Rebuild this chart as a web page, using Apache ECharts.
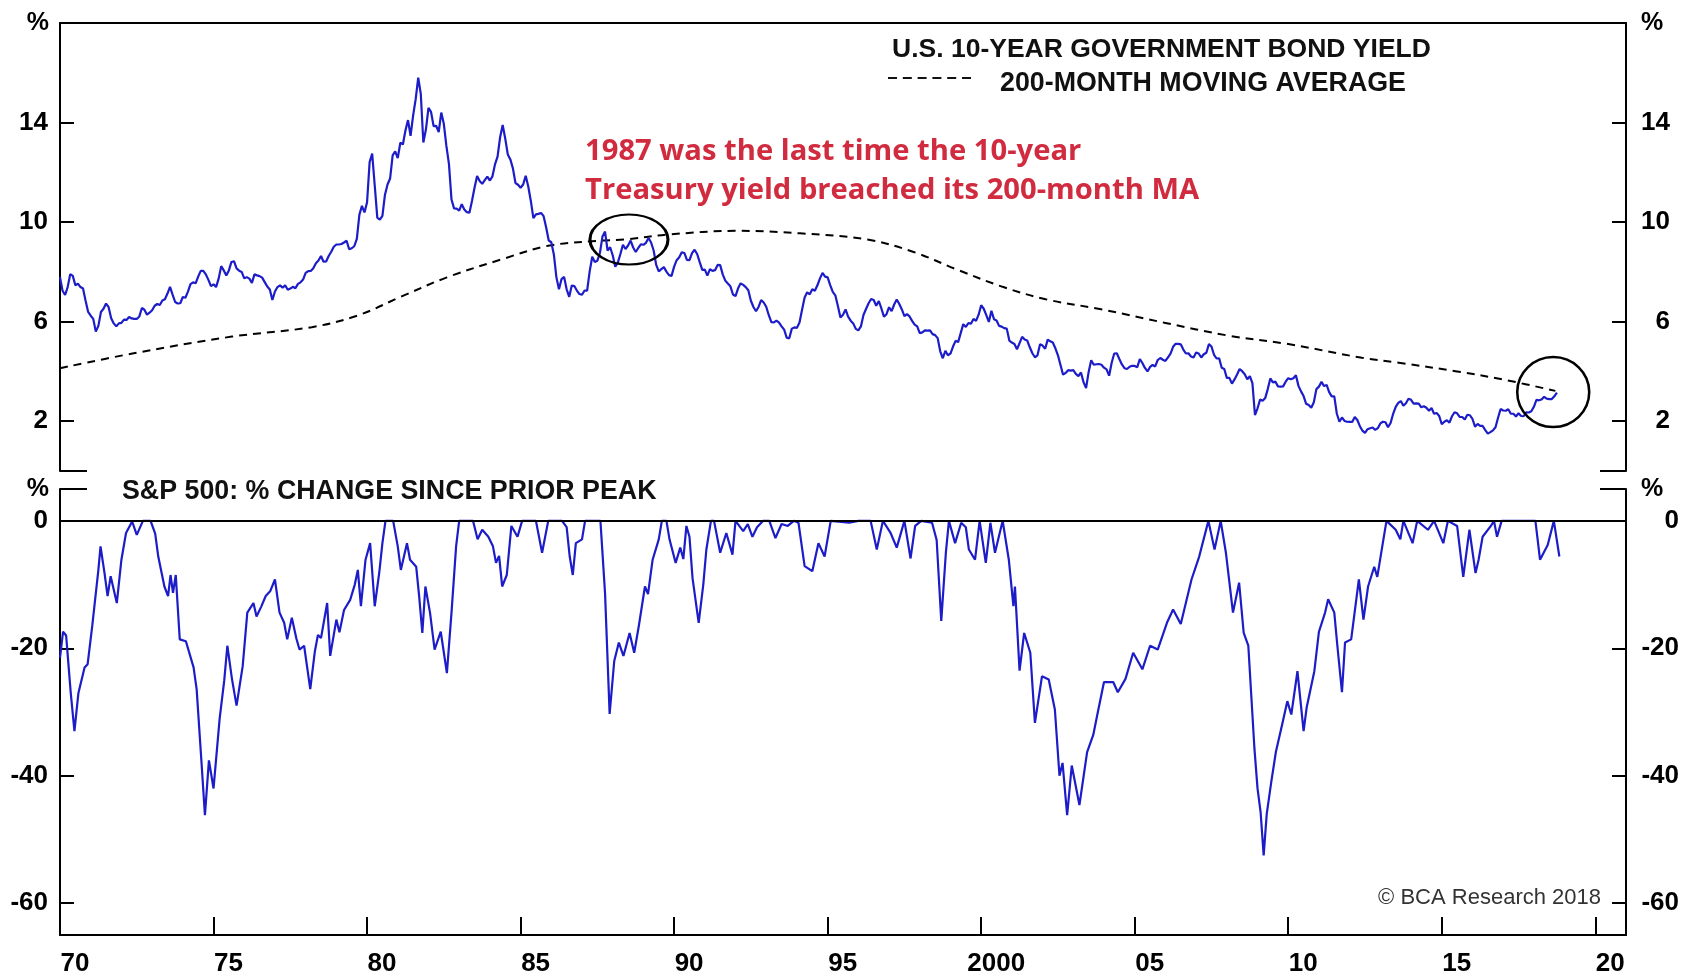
<!DOCTYPE html>
<html><head><meta charset="utf-8">
<script src="https://cdn.jsdelivr.net/npm/echarts@6/dist/echarts.min.js"></script>
<style>html,body{margin:0;padding:0;background:#fff}#c{width:1688px;height:977px}</style>
</head><body><div id="c"></div>
<script>
// ---------- DATA ----------
// U.S. 10-year government bond yield, monthly, starting Jan 1970
const yieldStart = 1970;
const yield1970s = [
7.79,7.24,7.07,7.39,7.91,7.84,7.46,7.53,7.39,7.33,6.84,6.39,
6.24,6.11,5.60,5.83,6.39,6.52,6.73,6.58,6.14,5.93,5.81,5.93,
5.95,6.08,6.07,6.19,6.13,6.11,6.11,6.21,6.55,6.48,6.28,6.36,
6.46,6.64,6.71,6.67,6.85,6.90,7.13,7.40,7.09,6.79,6.73,6.74,
6.99,6.96,7.21,7.51,7.58,7.54,7.81,8.04,8.04,7.90,7.68,7.43,
7.50,7.39,7.73,8.23,8.06,7.86,8.06,8.40,8.43,8.14,8.05,8.00,
7.74,7.79,7.73,7.56,7.90,7.86,7.83,7.77,7.59,7.41,7.29,6.87,
7.21,7.39,7.46,7.37,7.46,7.28,7.33,7.40,7.34,7.52,7.58,7.69,
7.96,8.03,8.04,8.15,8.35,8.46,8.64,8.41,8.42,8.64,8.81,9.01,
9.10,9.10,9.12,9.18,9.25,8.91,8.95,9.03,9.33,10.30,10.65,10.39];
const yield1980s = [
10.80,12.41,12.75,11.47,10.18,10.10,10.25,11.10,11.51,11.75,12.68,12.84,
12.57,13.19,13.12,13.68,14.10,13.47,14.28,14.94,15.80,15.15,13.20,13.72,
14.59,14.43,13.86,13.87,13.62,14.40,13.95,13.06,12.34,10.91,10.55,10.54,
10.46,10.72,10.51,10.40,10.38,10.85,11.38,11.85,11.65,11.54,11.69,11.83,
11.67,11.84,12.32,12.63,13.41,13.90,13.36,12.72,12.52,12.16,11.57,11.50,
11.38,11.51,11.86,11.43,10.85,10.16,10.31,10.33,10.37,10.24,9.78,9.26,
9.19,8.70,7.78,7.30,7.71,7.80,7.30,7.00,7.45,7.43,7.25,7.11,
7.08,7.25,7.25,8.02,8.61,8.40,8.45,8.76,9.42,9.62,8.86,8.99,
8.67,8.21,8.37,8.72,9.09,8.92,9.06,9.26,8.98,8.80,8.96,9.11,
9.09,9.17,9.36,9.18,8.86,8.28,8.02,8.11,8.19,8.01,7.87,7.84];
const yield1990s = [
8.21,8.47,8.59,8.79,8.76,8.48,8.47,8.75,8.89,8.72,8.39,8.08,
8.09,7.85,8.11,8.04,8.07,8.28,8.27,7.90,7.65,7.53,7.42,7.09,
7.03,7.34,7.54,7.48,7.39,7.26,6.84,6.59,6.42,6.59,6.87,6.77,
6.60,6.26,5.98,5.97,6.04,5.96,5.81,5.68,5.36,5.33,5.72,5.77,
5.75,5.97,6.48,6.97,7.18,7.10,7.30,7.24,7.46,7.74,7.96,7.81,
7.78,7.47,7.20,7.06,6.63,6.17,6.28,6.49,6.20,6.04,5.93,5.71,
5.65,5.81,6.27,6.51,6.74,6.91,6.87,6.64,6.83,6.53,6.20,6.30,
6.58,6.42,6.69,6.89,6.71,6.49,6.22,6.30,6.21,6.03,5.88,5.81,
5.54,5.57,5.65,5.64,5.65,5.50,5.46,5.34,4.81,4.53,4.83,4.65,
4.72,5.00,5.23,5.18,5.54,5.90,5.79,5.94,5.92,6.11,6.03,6.28];
const yield2000s = [
6.66,6.52,6.26,5.99,6.44,6.10,6.05,5.83,5.80,5.74,5.72,5.24,
5.16,5.10,4.89,5.14,5.39,5.28,5.24,4.97,4.73,4.57,4.65,5.09,
5.04,4.91,5.28,5.21,5.16,4.93,4.65,4.26,3.87,3.94,4.05,4.03,
4.05,3.90,3.81,3.96,3.57,3.33,3.98,4.45,4.27,4.29,4.30,4.27,
4.15,4.08,3.83,4.35,4.72,4.73,4.50,4.28,4.13,4.10,4.19,4.23,
4.22,4.17,4.50,4.34,4.14,4.00,4.18,4.26,4.20,4.46,4.54,4.47,
4.42,4.57,4.72,4.99,5.11,5.11,5.09,4.88,4.72,4.73,4.60,4.56,
4.76,4.72,4.56,4.69,4.75,5.10,5.00,4.67,4.52,4.53,4.15,4.10,
3.74,3.74,3.51,3.68,3.88,4.10,4.01,3.89,3.69,3.81,3.53,2.25,
2.52,2.87,2.82,2.93,3.29,3.72,3.56,3.59,3.40,3.39,3.40,3.59];
const yield2010s = [
3.73,3.69,3.73,3.85,3.42,3.20,3.01,2.70,2.65,2.54,2.76,3.29,
3.39,3.58,3.41,3.46,3.17,3.00,3.00,2.30,1.98,2.15,2.01,1.98,
1.97,1.97,2.17,2.05,1.80,1.62,1.53,1.68,1.72,1.75,1.65,1.72,
1.91,1.98,1.96,1.76,1.93,2.30,2.58,2.74,2.81,2.62,2.72,2.90,
2.86,2.71,2.72,2.71,2.56,2.60,2.54,2.42,2.53,2.30,2.33,2.21,
1.88,1.98,2.04,1.94,2.20,2.36,2.32,2.17,2.17,2.07,2.26,2.24,
2.09,1.78,1.89,1.81,1.81,1.64,1.50,1.56,1.63,1.76,2.14,2.49,
2.43,2.42,2.48,2.30,2.30,2.19,2.32,2.21,2.20,2.36,2.35,2.40,
2.58,2.86,2.84,2.87,2.98,2.91,2.89,2.89,3.00,3.15];

// 200-month moving average
const maYears  = [1970.0,1972.4,1975.6,1978.2,1979.7,1981.1,1982.6,1984.5,1985.9,1987.5,1988.4,1989.8,1992.0,1994.1,1996.3,1997.8,1999.2,2000.7,2002.1,2003.9,2006.0,2008.0,2010.0,2012.4,2013.6,2015.5,2017.1,2018.7];
const maValues = [4.13,4.73,5.40,5.78,6.25,7.00,7.78,8.55,9.05,9.25,9.30,9.50,9.65,9.55,9.30,8.80,8.10,7.40,6.90,6.50,5.95,5.45,5.10,4.55,4.35,4.00,3.65,3.22];

// S&P 500: % change since prior peak  [year, %]
const sp1970s = [[1970.0,-21.5],[1970.1,-17.4],[1970.2,-18],[1970.35,-27],[1970.47,-33],[1970.6,-27],[1970.8,-23],[1970.9,-22.5],[1971.05,-16.5],[1971.25,-7.7],[1971.32,-4],[1971.45,-8.2],[1971.55,-11.8],[1971.65,-8.7],[1971.85,-12.9],[1972.0,-6.1],[1972.15,-1.9],[1972.35,-0.1],[1972.5,-2.2],[1972.7,0],[1972.95,0],[1973.1,-2],[1973.2,-5.6],[1973.4,-10.3],[1973.52,-11.8],[1973.6,-8.5],[1973.68,-11.3],[1973.77,-8.5],[1973.9,-18.6],[1974.1,-18.9],[1974.35,-23],[1974.45,-26.4],[1974.6,-37.3],[1974.72,-46.2],[1974.85,-37.6],[1975.0,-42],[1975.2,-31],[1975.35,-25],[1975.45,-19.6],[1975.6,-24.8],[1975.75,-29],[1975.95,-22.8],[1976.1,-14.4],[1976.3,-12.9],[1976.4,-15],[1976.55,-13.5],[1976.7,-11.8],[1976.85,-11],[1977.0,-9.2],[1977.15,-14.4],[1977.3,-16],[1977.4,-18.6],[1977.55,-15.2],[1977.7,-18.5],[1977.8,-20.2],[1977.95,-19.6],[1978.15,-26.4],[1978.3,-20.5],[1978.4,-17.9],[1978.5,-18.4],[1978.7,-12.9],[1978.8,-21.2],[1979.0,-15.5],[1979.1,-17.5],[1979.25,-14],[1979.45,-12.4],[1979.6,-10],[1979.7,-7.7],[1979.8,-13.4],[1979.95,-6.1]];
const sp1980s = [[1980.1,-3.5],[1980.25,-13.4],[1980.4,-8],[1980.5,-3.5],[1980.6,0],[1980.85,0],[1981.0,-4],[1981.1,-7.7],[1981.3,-3.5],[1981.4,-6.1],[1981.6,-7.2],[1981.7,-12],[1981.8,-17.6],[1981.9,-10.3],[1982.05,-14.4],[1982.2,-20.2],[1982.4,-17.4],[1982.6,-23.9],[1982.75,-14.4],[1982.9,-4],[1983.0,0],[1983.45,0],[1983.6,-2.9],[1983.75,-1.4],[1983.95,-2.5],[1984.1,-4],[1984.2,-6.6],[1984.3,-5.5],[1984.4,-10.3],[1984.55,-8.5],[1984.7,-0.8],[1984.9,-2.5],[1985.05,0],[1985.5,0],[1985.7,-5],[1985.9,0],[1986.35,0],[1986.5,-1],[1986.6,-5.6],[1986.7,-8.5],[1986.8,-3.5],[1987.0,-2.9],[1987.1,0],[1987.6,0],[1987.75,-11.3],[1987.9,-30.3],[1988.05,-22],[1988.2,-19.1],[1988.35,-21.2],[1988.55,-17.6],[1988.7,-20.7],[1988.85,-16.5],[1989.05,-10.3],[1989.15,-11.5],[1989.3,-6.1],[1989.5,-2.9],[1989.6,0],[1989.75,0],[1989.85,-2.9]];
const sp1990s = [[1990.05,-6.6],[1990.2,-4.2],[1990.3,-6],[1990.4,-0.8],[1990.5,-2.5],[1990.6,-9],[1990.8,-16],[1990.95,-10],[1991.05,-4.5],[1991.2,0],[1991.3,0],[1991.5,-5],[1991.7,-1.9],[1991.9,-5.3],[1992.0,0],[1992.25,-1.6],[1992.4,-0.5],[1992.55,-2.5],[1992.7,-1],[1992.9,0],[1993.1,0],[1993.3,-2.7],[1993.5,-0.5],[1993.7,-0.8],[1993.9,0],[1994.05,-0.3],[1994.25,-7.1],[1994.5,-7.9],[1994.7,-3.5],[1994.9,-5.6],[1995.1,0],[1995.7,-0.3],[1996.0,0],[1996.4,0],[1996.6,-4.5],[1996.8,0],[1997.05,-1.9],[1997.25,-4.2],[1997.5,0],[1997.7,-5.9],[1997.85,-0.8],[1998.05,0],[1998.4,-0.3],[1998.55,-3],[1998.7,-15.7],[1998.85,-5],[1998.95,0],[1999.15,-3.5],[1999.35,-0.3],[1999.5,-1],[1999.6,-4.5],[1999.8,-6.1],[1999.95,0]];
const sp2000s = [[2000.15,-6.6],[2000.3,-0.3],[2000.45,-5],[2000.7,0],[2000.9,-6.1],[2001.05,-13.4],[2001.1,-10.3],[2001.25,-23.5],[2001.4,-17.6],[2001.6,-20.7],[2001.75,-31.7],[2001.98,-24.4],[2002.2,-24.9],[2002.4,-29.6],[2002.55,-40],[2002.65,-38],[2002.8,-46.2],[2002.95,-38.4],[2003.2,-44.6],[2003.45,-36.3],[2003.65,-33.6],[2003.8,-30],[2004.0,-25.3],[2004.3,-25.3],[2004.45,-26.9],[2004.7,-24.8],[2004.95,-20.7],[2005.25,-23.3],[2005.5,-19.6],[2005.75,-20.2],[2006.05,-16],[2006.25,-13.9],[2006.5,-16.2],[2006.85,-9.2],[2007.1,-5.6],[2007.4,0],[2007.6,-4.5],[2007.8,0],[2007.97,-5],[2008.2,-14.4],[2008.4,-9.7],[2008.55,-17.6],[2008.7,-19.6],[2008.9,-35.8],[2009.0,-42],[2009.1,-45.7],[2009.2,-52.5],[2009.3,-46],[2009.45,-40.9],[2009.6,-36.2],[2009.8,-32],[2009.97,-28.3]];
const sp2010s = [[2010.1,-30.4],[2010.3,-23.6],[2010.5,-33],[2010.6,-29.3],[2010.85,-23.6],[2011.0,-17.4],[2011.2,-14.4],[2011.3,-12.3],[2011.5,-14.4],[2011.6,-19.6],[2011.75,-26.9],[2011.85,-19.1],[2012.05,-18.6],[2012.3,-9.2],[2012.45,-15.5],[2012.6,-10.3],[2012.8,-7.2],[2012.9,-8.8],[2013.1,-2.9],[2013.2,0],[2013.5,-1.4],[2013.65,-2.9],[2013.75,0],[2014.05,-3.5],[2014.2,0],[2014.55,-1.4],[2014.75,0],[2015.05,-3.5],[2015.2,0],[2015.5,-0.8],[2015.7,-8.8],[2015.9,-1.4],[2016.1,-8.2],[2016.2,-6.1],[2016.33,-2.5],[2016.6,-0.8],[2016.7,0],[2016.8,-2.5],[2016.95,0],[2018.05,0],[2018.2,-6.1],[2018.45,-3.8],[2018.65,0],[2018.83,-5.6]];

// ticks
const yieldTicks = [2,6,10,14];
const drawdownTicks = [-60,-40,-20,0];
const yearTicks = [1970,1975,1980,1985,1990,1995,2000,2005,2010,2015,2020];
// highlighted spots (year, yield)
const circle1987 = [1988.53, 9.3];
const circle2018 = [2018.63, 3.17];

// ---------- BUILD ----------
const yieldAll = [].concat(yield1970s, yield1980s, yield1990s, yield2000s, yield2010s);
const yieldData = yieldAll.map((v, i) => [yieldStart + i / 12, v]);
const maData = maYears.map((y, i) => [y, maValues[i]]);
const spData = [].concat(sp1970s, sp1980s, sp1990s, sp2000s, sp2010s);

const L = 60, R = 62, W = 1688 - L - R, H = 448, T1 = 23, T2 = 489;
const FONT = '"Liberation Sans", Arial, sans-serif';
const RED_FONT = '"Open Sans", "Noto Sans", sans-serif';
const BLUE = '#1c1cc8';
const axisLine = {show: true, onZero: false, lineStyle: {color: '#000', width: 2}};
const lbl = {color: '#000', fontSize: 26, fontWeight: 'bold', fontFamily: FONT};
const pctName = (side) => ({
  name: '%', nameLocation: 'end', nameGap: 0,
  nameTextStyle: Object.assign({}, lbl, {fontSize: 25, align: side === 'left' ? 'right' : 'left', verticalAlign: 'middle',
    padding: side === 'left' ? [4, 11, 0, 0] : [4, 0, 0, 15]})
});
function yAx(grid, side, min, max, ticks, margin) {
  return Object.assign({
    gridIndex: grid, type: 'value', position: side, min: min, max: max,
    axisLine: axisLine,
    axisTick: {show: true, inside: true, length: 14, customValues: ticks, lineStyle: {color: '#000', width: 2}},
    axisLabel: Object.assign({}, lbl, {customValues: ticks, margin: margin, align: 'right', padding: [8, 0, 0, 0]}),
    splitLine: {show: false}
  }, pctName(side));
}

const chart = echarts.init(document.getElementById('c'), null, {renderer: 'canvas'});
const stub = (x1, y, x2) => ({type: 'line', shape: {x1: x1, y1: y, x2: x2, y2: y}, style: {stroke: '#000', lineWidth: 2}});
chart.setOption({
  animation: false,
  backgroundColor: '#fff',
  grid: [
    {left: L, width: W, top: T1, height: H},
    {left: L, width: W, top: T2, height: H}
  ],
  xAxis: [
    {gridIndex: 0, type: 'value', min: 1970, max: 2021, position: 'top', axisLine: axisLine,
     axisTick: {show: false}, axisLabel: {show: false}, splitLine: {show: false}},
    {gridIndex: 1, type: 'value', min: 1970, max: 2021, position: 'bottom', axisLine: axisLine,
     axisTick: {show: true, inside: true, length: 18, customValues: yearTicks, lineStyle: {color: '#000', width: 2}},
     axisLabel: Object.assign({}, lbl, {customValues: yearTicks, margin: 16, padding: [0, 0, 0, 30],
       formatter: v => v === 2000 ? '2000' : String(v % 100).padStart(2, '0')}),
     splitLine: {show: false}}
  ],
  yAxis: [
    yAx(0, 'left', 0, 18, yieldTicks, 12),
    yAx(0, 'right', 0, 18, yieldTicks, 44),
    yAx(1, 'left', -65, 5, drawdownTicks, 12),
    yAx(1, 'right', -65, 5, drawdownTicks, 53)
  ],
  series: [
    {type: 'line', name: 'U.S. 10-YEAR GOVERNMENT BOND YIELD', xAxisIndex: 0, yAxisIndex: 0, data: yieldData,
     showSymbol: false, lineStyle: {color: BLUE, width: 2.2}, z: 3,
     markPoint: {silent: true, symbol: 'circle', label: {show: false},
       itemStyle: {color: 'rgba(0,0,0,0)', borderColor: '#000', borderWidth: 2.5},
       data: [{coord: circle1987, symbolSize: [78, 50]}, {coord: circle2018, symbolSize: [72, 70]}]}},
    {type: 'line', name: '200-MONTH MOVING AVERAGE', xAxisIndex: 0, yAxisIndex: 0, data: maData, smooth: 0.35,
     showSymbol: false, lineStyle: {color: '#000', width: 2, type: [8, 6]}, z: 2},
    {type: 'line', name: 'S&P 500', xAxisIndex: 1, yAxisIndex: 2, data: spData,
     showSymbol: false, lineStyle: {color: BLUE, width: 2.2}, z: 3,
     markLine: {silent: true, symbol: 'none', label: {show: false},
       lineStyle: {color: '#000', width: 2, type: 'solid'}, data: [{yAxis: 0}]}}
  ],
  graphic: [
    {type: 'text', x: 892, y: 50, style: {text: 'U.S. 10-YEAR GOVERNMENT BOND YIELD', font: 'bold 26.5px ' + FONT, fill: '#111', align: 'left', verticalAlign: 'middle'}},
    {type: 'line', shape: {x1: 888, y1: 78, x2: 972, y2: 78}, style: {stroke: '#111', lineWidth: 2, lineDash: [9, 5.8]}},
    {type: 'text', x: 1000, y: 84, style: {text: '200-MONTH MOVING AVERAGE', font: 'bold 26.8px ' + FONT, fill: '#111', align: 'left', verticalAlign: 'middle'}},
    {type: 'text', x: 585, y: 152, style: {text: '1987 was the last time the 10-year', font: 'bold 29.2px ' + RED_FONT, fill: '#d12b3f', align: 'left', verticalAlign: 'middle'}},
    {type: 'text', x: 585, y: 191, style: {text: 'Treasury yield breached its 200-month MA', font: 'bold 29.2px ' + RED_FONT, fill: '#d12b3f', align: 'left', verticalAlign: 'middle'}},
    {type: 'text', x: 122, y: 492, style: {text: 'S&P 500: % CHANGE SINCE PRIOR PEAK', font: 'bold 26.8px ' + FONT, fill: '#111', align: 'left', verticalAlign: 'middle'}},
    {type: 'text', x: 1601, y: 898, style: {text: '\u00A9 BCA Research 2018', font: '22px ' + FONT, fill: '#333', align: 'right', verticalAlign: 'middle'}},
    stub(L, T1 + H, L + 27), stub(L, T2, L + 27),
    stub(L + W - 26, T1 + H, L + W), stub(L + W - 26, T2, L + W)
  ]
});
</script></body></html>
